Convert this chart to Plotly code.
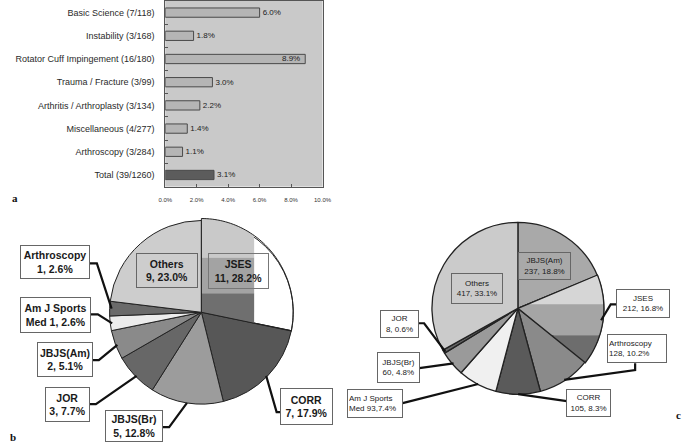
import math
import plotly.graph_objects as go

W, H = 692, 444

# ---------------- Panel a data ----------------
bar_categories = ["Basic Science", "Instability", "Rotator Cuff Impingement", "Trauma / Fracture",
                  "Arthritis / Arthroplasty", "Miscellaneous", "Arthroscopy", "Total"]
bar_numerators = [7, 3, 16, 3, 3, 4, 3, 39]
bar_denominators = [118, 168, 180, 99, 134, 277, 284, 1260]
bar_percent = [6.0, 1.8, 8.9, 3.0, 2.2, 1.4, 1.1, 3.1]
x_tick_values = [0, 2, 4, 6, 8, 10]
x_tick_labels = ["0.0%", "2.0%", "4.0%", "6.0%", "8.0%", "10.0%"]

# ---------------- Panel b data ----------------
b_labels = ["JSES", "CORR", "JBJS(Br)", "JOR", "JBJS(Am)", "Am J Sports Med", "Arthroscopy", "Others"]
b_counts = [11, 7, 5, 3, 2, 1, 1, 9]
b_percent = [28.2, 17.9, 12.8, 7.7, 5.1, 2.6, 2.6, 23.0]

# ---------------- Panel c data ----------------
c_labels = ["JBJS(Am)", "JSES", "Arthroscopy", "CORR", "Am J Sports Med", "JBJS(Br)", "JOR", "Others"]
c_counts = [237, 212, 128, 105, 93, 60, 8, 417]
c_percent = [18.8, 16.8, 10.2, 8.3, 7.4, 4.8, 0.6, 33.1]

FONT = "Liberation Sans, Arial, sans-serif"

# ---------------- helpers ----------------
def px2paper(x, y):
    return x / W, 1 - y / H


def slice_angles(counts):
    tot = float(sum(counts))
    out, cum = [], 0.0
    for c in counts:
        a0 = cum / tot * 360
        cum += c
        a1 = cum / tot * 360
        out.append((a0, a1))
    return out


def edge_point(cx, cy, r, theta):
    t = math.radians(theta)
    return cx + r * math.sin(t), cy - r * math.cos(t)


def wedge_poly(cx, cy, r, a0, a1, n=60):
    pts = [(cx, cy)]
    for i in range(n + 1):
        pts.append(edge_point(cx, cy, r, a0 + (a1 - a0) * i / n))
    return pts


def clip(poly, xmin, xmax, ymin, ymax):
    def clip_edge(pts, inside, inter):
        res = []
        if not pts:
            return res
        prev = pts[-1]
        for cur in pts:
            if inside(cur):
                if not inside(prev):
                    res.append(inter(prev, cur))
                res.append(cur)
            elif inside(prev):
                res.append(inter(prev, cur))
            prev = cur
        return res

    def ix(xv):
        return lambda p, q: (xv, p[1] + (q[1] - p[1]) * (xv - p[0]) / (q[0] - p[0]))

    def iy(yv):
        return lambda p, q: (p[0] + (q[0] - p[0]) * (yv - p[1]) / (q[1] - p[1]), yv)

    pts = clip_edge(poly, lambda p: p[0] >= xmin, ix(xmin))
    pts = clip_edge(pts, lambda p: p[0] <= xmax, ix(xmax))
    pts = clip_edge(pts, lambda p: p[1] >= ymin, iy(ymin))
    pts = clip_edge(pts, lambda p: p[1] <= ymax, iy(ymax))
    return pts


def path_of(pts, close=True):
    s = ""
    for i, (x, y) in enumerate(pts):
        px, py = px2paper(x, y)
        s += ("M" if i == 0 else " L") + f"{px:.5f},{py:.5f}"
    return s + (" Z" if close else "")


shapes, annotations = [], []


def box(x0, y0, x1, y1, text, size, bold, fill, border, align="center", bw=1):
    pad = 1
    cx, cy = px2paper((x0 + x1) / 2, (y0 + y1) / 2)
    annotations.append(dict(
        x=cx, y=cy, xref="paper", yref="paper", xanchor="center", yanchor="middle",
        text=(f"<b>{text}</b>" if bold else text), showarrow=False, align=align,
        width=max(1, x1 - x0 - 2 * pad - 2 * bw), height=max(1, y1 - y0 - 2 * pad - 2 * bw),
        borderpad=pad, borderwidth=bw, bordercolor=border, bgcolor=fill,
        font=dict(family=FONT, size=size, color="#1a1a1a")))


def leader(points, width=2.2):
    shapes.append(dict(type="path", xref="paper", yref="paper", path=path_of(points, close=False),
                       line=dict(color="#111111", width=width), layer="above"))


# ---------------- Panel a ----------------
cat_text = [f"{n} ({a}/{b})" for n, a, b in zip(bar_categories, bar_numerators, bar_denominators)]
bar_colors = ["#b5b5b5"] * (len(bar_categories) - 1) + ["#5c5c5c"]
inside_flags = [v > 8 for v in bar_percent]
bar_text = ["" if f else f"{v:.1f}%" for v, f in zip(bar_percent, inside_flags)]

fig = go.Figure()
fig.add_trace(go.Bar(
    x=bar_percent, y=cat_text, orientation="h", width=0.4,
    marker=dict(color=bar_colors, line=dict(color="#4a4a4a", width=1)),
    text=bar_text, textposition="outside",
    textfont=dict(family=FONT, size=8, color="#222222"),
    outsidetextfont=dict(family=FONT, size=8, color="#222222"),
    cliponaxis=False, hoverinfo="skip", showlegend=False))

# value label that sits inside the long bar
for v, c, f in zip(bar_percent, cat_text, inside_flags):
    if f:
        annotations.append(dict(x=v, y=c, xref="x", yref="y", text=f"{v:.1f}%", showarrow=False,
                                xanchor="right", yanchor="middle", xshift=-3,
                                font=dict(family=FONT, size=8, color="#222222")))

# ---------------- Panel b pie ----------------
B_CX, B_CY, B_R = 199, 312, 94
b_colors = ["#ffffff", "#575757", "#9c9c9c", "#676767", "#8a8a8a", "#ececec", "#6a6a6a", "#cdcdcd"]
fig.add_trace(go.Pie(
    values=b_counts, labels=b_labels, sort=False, direction="clockwise", rotation=0,
    marker=dict(colors=b_colors, line=dict(color="#222222", width=1)),
    textinfo="none", hoverinfo="skip", showlegend=False,
    domain=dict(x=[(B_CX - B_R) / W, (B_CX + B_R) / W], y=[1 - (B_CY + B_R) / H, 1 - (B_CY - B_R) / H])))

# ---------------- Panel c pie ----------------
C_CX, C_CY, C_R = 523, 308, 88
c_colors = ["#a9a9a9", "#d6d6d6", "#8a8a8a", "#5a5a5a", "#f0f0f0", "#9a9a9a", "#666666", "#cbcbcb"]
fig.add_trace(go.Pie(
    values=c_counts, labels=c_labels, sort=False, direction="clockwise", rotation=0,
    marker=dict(colors=c_colors, line=dict(color="#222222", width=1.3)),
    textinfo="none", hoverinfo="skip", showlegend=False,
    domain=dict(x=[(C_CX - C_R) / W, (C_CX + C_R) / W], y=[1 - (C_CY + C_R) / H, 1 - (C_CY - C_R) / H])))

# ---- tonal bands inside JSES slices (print artefact) ----
b_ang = slice_angles(b_counts)
ja0, ja1 = b_ang[0]
wb = wedge_poly(B_CX, B_CY, B_R, ja0, ja1)
for (y0, y1, col) in [(0, 257, "#c9c9c9"), (257, 293, "#a3a3a3"), (293, 999, "#6f6f6f")]:
    pts = clip(wb, B_CX, B_CX + 54, y0, y1)
    if len(pts) > 2:
        shapes.append(dict(type="path", xref="paper", yref="paper", path=path_of(pts),
                           fillcolor=col, line=dict(width=0), layer="above"))
shapes.append(dict(type="path", xref="paper", yref="paper", path=path_of(wb),
                   line=dict(color="#222222", width=1), layer="above"))

c_ang = slice_angles(c_counts)
ja0, ja1 = c_ang[1]
wc = wedge_poly(C_CX, C_CY, C_R, ja0, ja1)
for (y0, y1, col) in [(0, 304, "#d6d6d6"), (304, 335, "#a5a5a5"), (335, 999, "#6d6d6d")]:
    pts = clip(wc, -999, 9999, y0, y1)
    if len(pts) > 2:
        shapes.append(dict(type="path", xref="paper", yref="paper", path=path_of(pts),
                           fillcolor=col, line=dict(width=0), layer="above"))
shapes.append(dict(type="path", xref="paper", yref="paper", path=path_of(wc),
                   line=dict(color="#222222", width=1.3), layer="above"))


def mid_edge_b(i, inset=0):
    a0, a1 = b_ang[i]
    return edge_point(B_CX, B_CY, B_R - inset, (a0 + a1) / 2)


def mid_edge_c(i, inset=0):
    a0, a1 = c_ang[i]
    return edge_point(C_CX, C_CY, C_R - inset, (a0 + a1) / 2)


def lbl(i, labels, counts, pct, sep=", "):
    return labels[i], f"{counts[i]}{sep}{pct[i]:.1f}%"


# ---- panel b labels ----
ib = {n: i for i, n in enumerate(b_labels)}
n, v = lbl(ib["Others"], b_labels, b_counts, b_percent)
box(133, 253, 195, 288, f"{n}<br>{v}", 10.5, True, "#cdcdcd", "#666666")
n, v = lbl(ib["JSES"], b_labels, b_counts, b_percent)
box(206, 253, 267, 289, f"{n}<br>{v}", 10.5, True, "rgba(0,0,0,0)", "#777777")

n, v = lbl(ib["Arthroscopy"], b_labels, b_counts, b_percent)
box(14, 245, 84, 279, f"{n}<br>{v}", 10.5, True, "#ffffff", "#666666")
leader([(84, 263), (92, 263), mid_edge_b(ib["Arthroscopy"], 2)])

i = ib["Am J Sports Med"]
box(14, 297, 85, 333, f"Am J Sports<br>Med {b_counts[i]}, {b_percent[i]:.1f}%", 10.5, True, "#ffffff", "#666666")
leader([(85, 314), (93, 314), mid_edge_b(i, 2)])

n, v = lbl(ib["JBJS(Am)"], b_labels, b_counts, b_percent)
box(31, 342, 87, 377, f"{n}<br>{v}", 10.5, True, "#ffffff", "#666666")
leader([(87, 360), (94, 360), mid_edge_b(ib["JBJS(Am)"], 2)])

n, v = lbl(ib["JOR"], b_labels, b_counts, b_percent)
box(39, 387, 84, 422, f"{n}<br>{v}", 10.5, True, "#ffffff", "#666666")
leader([(84, 404), (91, 404), mid_edge_b(ib["JOR"], 2)])

n, v = lbl(ib["JBJS(Br)"], b_labels, b_counts, b_percent)
box(101, 410, 159, 442, f"{n}<br>{v}", 10.5, True, "#ffffff", "#666666")
leader([(159, 427), (166, 427), mid_edge_b(ib["JBJS(Br)"], 2)])

n, v = lbl(ib["CORR"], b_labels, b_counts, b_percent)
box(280, 388, 333, 425, f"{n}<br>{v}", 10.5, True, "#ffffff", "#666666")
leader([(280, 412), (276, 412), mid_edge_b(ib["CORR"], 2)])

# ---- panel c labels ----
ic = {n: i for i, n in enumerate(c_labels)}
n, v = lbl(ic["JBJS(Am)"], c_labels, c_counts, c_percent)
box(524, 252, 577, 280, f"{n}<br>{v}", 8, False, "#a9a9a9", "#666666")
n, v = lbl(ic["Others"], c_labels, c_counts, c_percent)
box(455, 273, 507, 304, f"{n}<br>{v}", 8, False, "#cbcbcb", "#666666")

n, v = lbl(ic["JSES"], c_labels, c_counts, c_percent)
box(624, 289, 678, 318, f"{n}<br>{v}", 8, False, "#ffffff", "#666666")
leader([(624, 304), (618, 304), mid_edge_c(ic["JSES"], 2)])

n, v = lbl(ic["Arthroscopy"], c_labels, c_counts, c_percent)
box(615, 334, 675, 363, f"{n}<br>{v}", 8, False, "#ffffff", "#666666", align="left")
leader([(643, 363), (643, 370), mid_edge_c(ic["Arthroscopy"], 2)])

n, v = lbl(ic["CORR"], c_labels, c_counts, c_percent)
box(573, 389, 618, 417, f"{n}<br>{v}", 8, False, "#ffffff", "#666666")
leader([(573, 401), mid_edge_c(ic["CORR"], 2)])

i = ic["Am J Sports Med"]
box(349, 389, 405, 418, f"Am J Sports<br>Med {c_counts[i]},{c_percent[i]:.1f}%", 8, False, "#ffffff", "#666666",
    align="left")
leader([(405, 403), mid_edge_c(i, 2)])

n, v = lbl(ic["JBJS(Br)"], c_labels, c_counts, c_percent)
box(379, 352, 422, 383, f"{n}<br>{v}", 8, False, "#ffffff", "#666666")
leader([(422, 368), mid_edge_c(ic["JBJS(Br)"], 2)])

n, v = lbl(ic["JOR"], c_labels, c_counts, c_percent)
box(382, 310, 421, 338, f"{n}<br>{v}", 8, False, "#ffffff", "#666666")
leader([(421, 323), (427, 323), mid_edge_c(ic["JOR"], 2)])

# ---- panel letters ----
for letter, x, y in [("a", 8, 197), ("b", 6, 437), ("c", 687, 415)]:
    px, py = px2paper(x, y)
    annotations.append(dict(x=px, y=py, xref="paper", yref="paper", text=f"<b>{letter}</b>",
                            showarrow=False, xanchor="center", yanchor="middle",
                            font=dict(family="Liberation Serif, serif", size=11, color="#111111")))

fig.update_layout(
    width=W, height=H, margin=dict(l=0, r=0, t=0, b=0),
    paper_bgcolor="#ffffff", plot_bgcolor="#c9c9c9",
    font=dict(family=FONT, color="#222222"),
    xaxis=dict(domain=[162 / W, 323 / W], range=[0, 10], tickvals=x_tick_values, ticktext=x_tick_labels,
               ticks="inside", ticklen=3, tickcolor="#555555", showline=True, mirror=True,
               linecolor="#555555", linewidth=1, showgrid=False, zeroline=False,
               tickfont=dict(size=6, color="#333333"), ticklabelstandoff=7, fixedrange=True),
    yaxis=dict(domain=[1 - 186 / H, 1], type="category", autorange="reversed",
               ticks="inside", ticklen=3, tickcolor="#555555", tickson="boundaries",
               showline=True, mirror=True, linecolor="#555555", linewidth=1, showgrid=False,
               tickfont=dict(size=9, color="#2a2a2a"), ticklabelstandoff=8, fixedrange=True),
    bargap=0.6, shapes=shapes, annotations=annotations,
)

fig.write_html("out.html", config={"displayModeBar": False},
               post_script="document.body.style.margin='0';document.body.style.padding='0';"
                           "document.body.style.overflow='hidden';")
